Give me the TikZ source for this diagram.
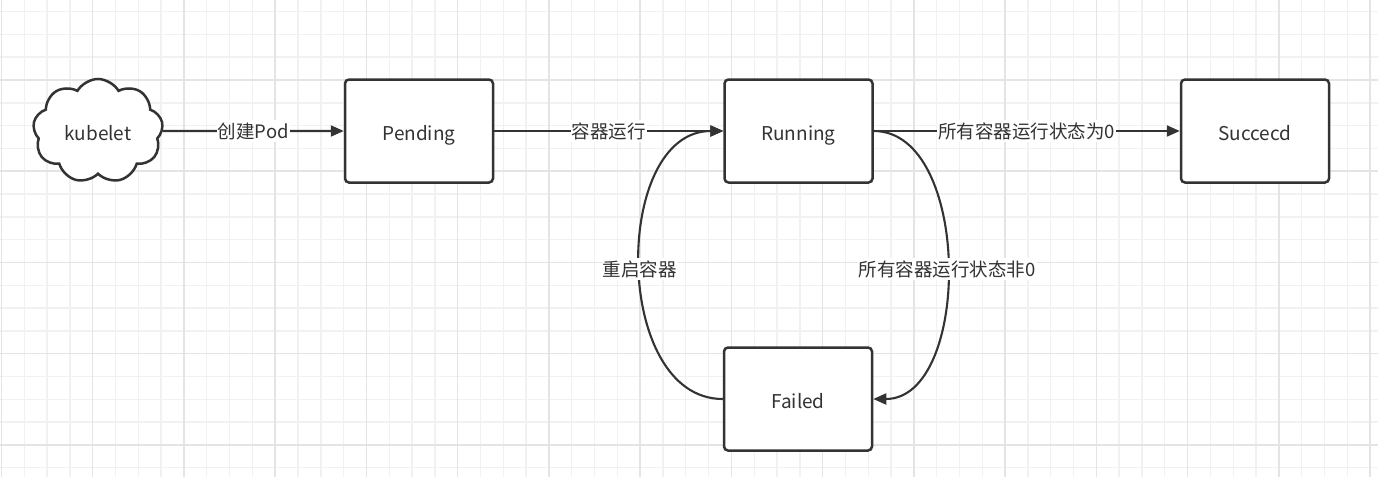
\documentclass[tikz,border=0pt]{standalone}
\usepackage{fontspec}
\setmainfont{Noto Sans CJK SC}
\usetikzlibrary{arrows.meta,shapes.symbols}
\definecolor{ink}{HTML}{333333}
\definecolor{gridminor}{HTML}{F1F1F1}
\definecolor{gridmajor}{HTML}{E4E4E4}
\tikzset{
  statebox/.style={draw=ink, line width=2.5pt, rounded corners=4pt, fill=white,
    minimum width=148pt, minimum height=103pt, inner sep=0pt, text=ink,
    text height=20pt, text depth=2pt,
    font=\fontsize{19}{22}\selectfont},
  flow/.style={draw=ink, line width=2.1pt, -{Triangle[length=13pt,width=11pt]}},
  flowlabel/.style={fill=white, text=ink, inner sep=1pt, text height=17pt, text depth=3pt,
    font=\fontsize{18.5}{22}\selectfont},
}
\begin{document}
\begin{tikzpicture}[x=1pt,y=-1pt]
  \fill[white] (0,0) rectangle (1378,477);
  \useasboundingbox (0,0) rectangle (1378,477);
  % grid
  \foreach \i in {-3,...,60} {
    \draw[gridminor, line width=1.4pt] ({1.46+22.81*\i},0) -- ({1.46+22.81*\i},477);
  }
  \foreach \i in {-3,...,20} {
    \draw[gridminor, line width=1.4pt] (0,{80+22.81*\i}) -- (1378,{80+22.81*\i});
  }
  \foreach \i in {0,...,15} {
    \draw[gridmajor, line width=1.5pt] ({1.46+91.24*\i},0) -- ({1.46+91.24*\i},477);
  }
  \foreach \i in {-1,...,4} {
    \draw[gridmajor, line width=1.5pt] (0,{80+91.24*\i}) -- (1378,{80+91.24*\i});
  }
  % nodes
  \node[cloud, cloud puffs=9, cloud puff arc=120, aspect=1.25, draw=ink, line width=2.5pt,
        fill=white, minimum width=130pt, minimum height=104pt, inner sep=0pt, text=ink,
        text height=20pt, text depth=2pt,
        font=\fontsize{19}{22}\selectfont] (kubelet) at (98,131) {kubelet};
  \node[statebox] (pending) at (419,131) {Pending};
  \node[statebox] (running) at (798.5,131) {Running};
  \node[statebox] (succecd) at (1255,131) {Succecd};
  \node[statebox] (failed) at (798,399) {Failed};
  % connectors
  \draw[flow] (kubelet.east) -- node[flowlabel] {创建Pod} (pending.west);
  \draw[flow] (pending.east) -- node[flowlabel] {容器运行} (running.west);
  \draw[flow] (running.east) -- node[flowlabel] {所有容器运行状态为0} (succecd.west);
  \draw[flow] (running.east) .. controls (972,131) and (972,399) .. node[flowlabel, pos=0.51] {所有容器运行状态非0} (failed.east);
  \draw[flow] (failed.west) .. controls (612,399) and (612,131) .. node[flowlabel, pos=0.49] {重启容器} (running.west);
\end{tikzpicture}
\end{document}
